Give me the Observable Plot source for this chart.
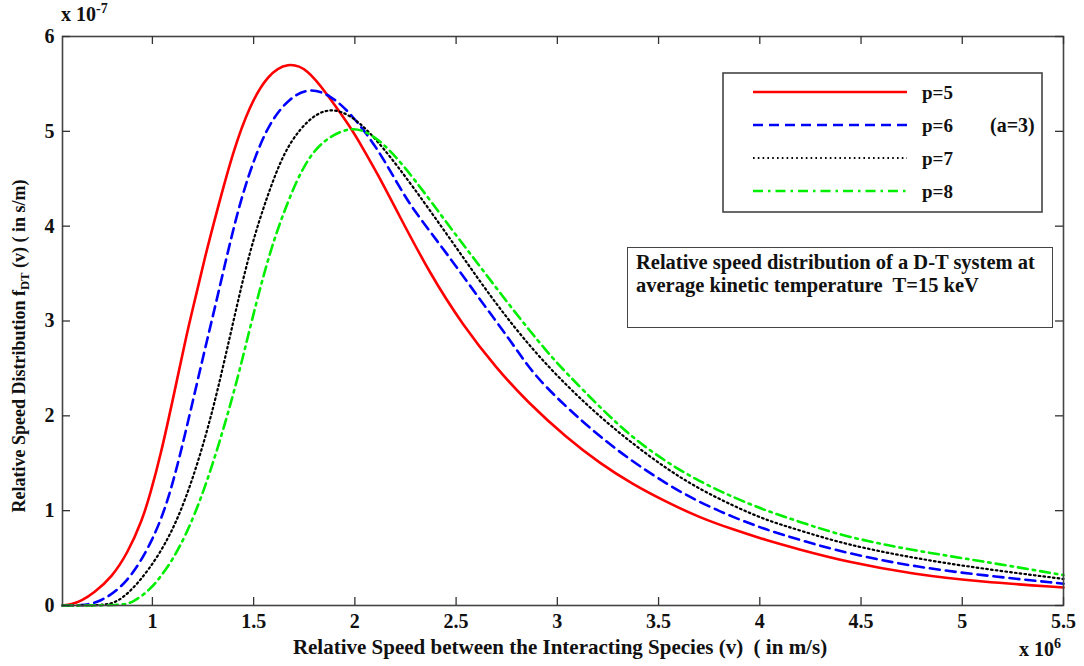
<!DOCTYPE html>
<html>
<head>
<meta charset="utf-8">
<script src="https://cdn.jsdelivr.net/npm/d3@7"></script>
<script src="https://cdn.jsdelivr.net/npm/@observablehq/plot@0.6"></script>
<style>
  html, body { margin: 0; padding: 0; background: #fff; }
  #wrap { position: relative; width: 1084px; height: 666px; font-family: "Liberation Serif", "Times New Roman", serif; font-weight: bold; color: #111; }
  #wrap svg.plot { position: absolute; left: 0; top: 0; }
  .ov { position: absolute; white-space: nowrap; }
  sup, sub { font-size: 70%; }
</style>
</head>
<body>
<div id="wrap"></div>
<script>
// ---- data (x in 10^6 m/s, y in 10^-7 s/m) ----
const seriesLabels = ["p=5", "p=6", "p=7", "p=8"];
const xP5 = [0.556,0.60,0.65,0.71,0.80,0.877,0.95,0.99,1.04,1.10,1.17,1.21,1.26,1.32,1.40,1.48,1.57,1.67,1.765,1.86,1.98,2.04,2.11,2.21,2.37,2.535,2.70,2.85,3.05,3.21,3.37,3.54,3.70,3.87,4.03,4.18,4.43,4.76,5.09,5.5];
const yP5 = [0.0,0.01,0.05,0.13,0.30,0.55,0.90,1.18,1.58,2.16,2.87,3.22,3.68,4.17,4.80,5.27,5.60,5.73,5.66,5.40,5.04,4.82,4.56,4.15,3.50,2.95,2.50,2.15,1.76,1.50,1.28,1.09,0.93,0.80,0.69,0.60,0.46,0.33,0.25,0.19];
const xP6 = [0.556,0.65,0.74,0.877,1.005,1.09,1.17,1.25,1.32,1.42,1.50,1.58,1.68,1.78,1.88,1.98,2.11,2.22,2.29,2.455,2.62,2.78,2.88,3.05,3.21,3.37,3.54,3.70,3.87,4.03,4.20,4.43,4.76,5.09,5.5];
const yP6 = [0,0.0,0.03,0.23,0.69,1.18,1.88,2.62,3.24,4.17,4.70,5.10,5.36,5.46,5.38,5.19,4.83,4.41,4.17,3.71,3.22,2.76,2.44,2.08,1.78,1.52,1.28,1.09,0.93,0.80,0.69,0.55,0.41,0.32,0.23];
const xP7 = [0.556,0.75,0.83,0.93,1.04,1.14,1.24,1.32,1.40,1.48,1.57,1.65,1.73,1.81,1.89,1.98,2.08,2.21,2.37,2.535,2.70,2.88,3.05,3.21,3.37,3.54,3.70,3.87,4.03,4.20,4.43,4.76,5.09,5.5];
const yP7 = [0,0.0,0.03,0.23,0.55,0.97,1.60,2.24,3.00,3.74,4.34,4.78,5.03,5.19,5.24,5.17,4.98,4.64,4.17,3.67,3.17,2.69,2.31,1.99,1.71,1.44,1.23,1.05,0.90,0.79,0.64,0.50,0.39,0.28];
const xP8 = [0.556,0.85,0.90,0.99,1.09,1.17,1.25,1.335,1.42,1.49,1.58,1.67,1.745,1.83,1.97,2.06,2.16,2.29,2.455,2.62,2.78,2.95,3.05,3.21,3.37,3.54,3.70,3.87,4.03,4.20,4.43,4.76,5.09,5.5];
const yP8 = [0,0.0,0.03,0.16,0.44,0.76,1.18,1.74,2.38,3.00,3.74,4.27,4.63,4.89,5.05,5.00,4.84,4.51,4.03,3.57,3.12,2.67,2.44,2.09,1.77,1.51,1.31,1.14,1.00,0.88,0.72,0.58,0.47,0.32];
const xTicks = [1, 1.5, 2, 2.5, 3, 3.5, 4, 4.5, 5, 5.5];
const yTicks = [0, 1, 2, 3, 4, 5, 6];
const xDomain = [0.556, 5.5];
const yDomain = [0, 6];

// ---- styles ----
const colors = ["#ff0000", "#0000ff", "#000000", "#00ee00"];
const dashes = [null, "10,6", "1.6,3.2", "10,5,2.5,5"];
const widths = [2.6, 2.6, 2.2, 2.6];

const xs = [xP5, xP6, xP7, xP8];
const ys = [yP5, yP6, yP7, yP8];
const table = [];
seriesLabels.forEach((s, i) => xs[i].forEach((x, j) => table.push({series: s, x, y: ys[i][j]})));

const lineMarks = seriesLabels.map((s, i) =>
  Plot.line(table.filter(d => d.series === s), {
    x: "x", y: "y", stroke: colors[i], strokeWidth: widths[i],
    strokeDasharray: dashes[i], curve: "basis"
  })
);

const W = 1084, H = 666, mL = 62, mR = 21, mT = 36, mB = 61, TK = 8;
const innerW = W - mL - mR, innerH = H - mT - mB;
// tick length in data units (derived from the pixel tick length)
const tkY = TK / innerH * (yDomain[1] - yDomain[0]);
const tkX = TK / innerW * (xDomain[1] - xDomain[0]);
const fmt = d => String(d);
const tickStyle = {stroke: "#333", strokeWidth: 1.3};
const chart = Plot.plot({
  width: W, height: H,
  marginLeft: mL, marginRight: mR, marginTop: mT, marginBottom: mB,
  style: {fontFamily: "'Liberation Serif', 'Times New Roman', serif", fontWeight: "bold", fontSize: "20px", color: "#111", background: "transparent"},
  x: {domain: xDomain},
  y: {domain: yDomain},
  marks: [
    ...lineMarks,
    Plot.frame({stroke: "#444", strokeWidth: 1.6}),
    // inward tick marks on all four sides
    Plot.ruleX(xTicks, {x: d => d, y1: yDomain[0], y2: yDomain[0] + tkY, ...tickStyle}),
    Plot.ruleX(xTicks, {x: d => d, y1: yDomain[1] - tkY, y2: yDomain[1], ...tickStyle}),
    Plot.ruleY(yTicks, {y: d => d, x1: xDomain[0], x2: xDomain[0] + tkX, ...tickStyle}),
    Plot.ruleY(yTicks, {y: d => d, x1: xDomain[1] - tkX, x2: xDomain[1], ...tickStyle}),
    Plot.axisX(xTicks, {anchor: "bottom", tickSize: 0, tickPadding: 8, tickFormat: fmt, label: null}),
    Plot.axisY(yTicks, {anchor: "left", tickSize: 0, tickPadding: 8, tickFormat: fmt, label: null})
  ]
});
chart.classList.add("plot");
const wrap = document.getElementById("wrap");
wrap.appendChild(chart);

function ov(html, css) {
  const d = document.createElement("div");
  d.className = "ov";
  d.innerHTML = html;
  Object.assign(d.style, css);
  wrap.appendChild(d);
  return d;
}
// exponent labels
ov("x 10<sup>-7</sup>", {left: "61px", top: "1px", fontSize: "20px"});
ov("x 10<sup>6</sup>", {left: "1019px", top: "636px", fontSize: "20px"});
// axis titles
ov("Relative Speed between the Interacting Species (v)&nbsp; ( in m/s)", {left: "560px", top: "635px", fontSize: "21px", transform: "translateX(-50%)"});
ov("Relative Speed Distribution f<sub>DT</sub> (v) ( in s/m)", {left: "21px", top: "346px", fontSize: "18px", transform: "translate(-50%,-50%) rotate(-90deg)"});

// legend box
const NS = "http://www.w3.org/2000/svg";
const leg = document.createElementNS(NS, "svg");
leg.setAttribute("width", 325); leg.setAttribute("height", 145);
Object.assign(leg.style, {position: "absolute", left: "721px", top: "71px"});
const rect = document.createElementNS(NS, "rect");
rect.setAttribute("x", 2); rect.setAttribute("y", 2); rect.setAttribute("width", 319); rect.setAttribute("height", 139);
rect.setAttribute("fill", "#fff"); rect.setAttribute("stroke", "#444"); rect.setAttribute("stroke-width", 1.6);
leg.appendChild(rect);
seriesLabels.forEach((s, i) => {
  const yy = 21 + i * 33;
  const l = document.createElementNS(NS, "line");
  l.setAttribute("x1", 32); l.setAttribute("x2", 186);
  l.setAttribute("y1", yy); l.setAttribute("y2", yy);
  l.setAttribute("stroke", colors[i]); l.setAttribute("stroke-width", widths[i]);
  if (dashes[i]) l.setAttribute("stroke-dasharray", dashes[i]);
  leg.appendChild(l);
  const t = document.createElementNS(NS, "text");
  t.setAttribute("x", 201); t.setAttribute("y", yy); t.setAttribute("dy", "0.35em");
  t.setAttribute("font-size", 19); t.setAttribute("font-weight", "bold");
  t.setAttribute("font-family", "'Liberation Serif', serif"); t.setAttribute("fill", "#111");
  t.textContent = s;
  leg.appendChild(t);
});
const ta = document.createElementNS(NS, "text");
ta.setAttribute("x", 269); ta.setAttribute("y", 54); ta.setAttribute("dy", "0.35em");
ta.setAttribute("font-size", 20); ta.setAttribute("font-weight", "bold");
ta.setAttribute("font-family", "'Liberation Serif', serif"); ta.setAttribute("fill", "#111");
ta.textContent = "(a=3)";
leg.appendChild(ta);
wrap.appendChild(leg);

// annotation box
ov("Relative speed distribution of a D-T system at<br>average kinetic temperature&nbsp; T=15 keV",
  {left: "627px", top: "247px", width: "416px", height: "68px", border: "1.6px solid #444", background: "#fff",
   padding: "3px 0 8px 8px", fontSize: "20.5px", lineHeight: "23px"});
</script>
</body>
</html>
